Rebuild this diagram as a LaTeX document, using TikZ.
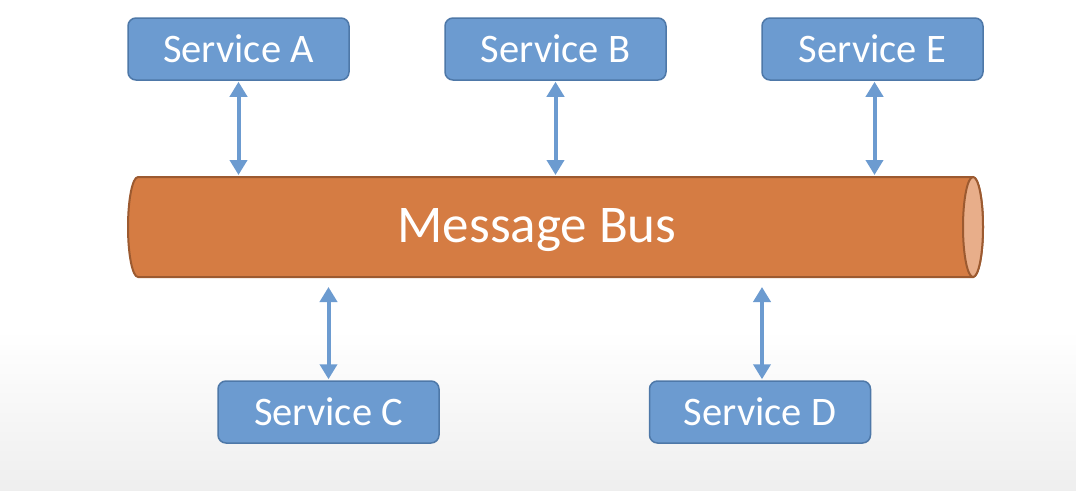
\documentclass[tikz,border=0pt]{standalone}
\usepackage{fontspec}
\setmainfont{Carlito}
\usetikzlibrary{arrows.meta}
\definecolor{boxfill}{HTML}{6C9BD0}
\definecolor{boxline}{HTML}{4E78A8}
\definecolor{busfill}{HTML}{D57C43}
\definecolor{busline}{HTML}{9C5A30}
\definecolor{busend}{HTML}{E8AE8A}
\tikzset{
  svc/.style={draw=boxline, line width=1.5pt, fill=boxfill, rounded corners=8pt,
    minimum width=221pt, minimum height=62pt, inner sep=0pt, text=white,
    font=\fontsize{40.5}{48}\selectfont},
  biarrow/.style={draw=boxfill, line width=4pt,
    {Triangle[width=17pt,length=15pt]}-{Triangle[width=17pt,length=15pt]}},
  busstyle/.style={draw=busline, line width=2pt, fill=busfill},
}
\begin{document}
\begin{tikzpicture}[x=1pt,y=-1pt]
\useasboundingbox (0,0) rectangle (1076,490);
\fill[white] (0,0) rectangle (1076,490);
\shade[top color=white, bottom color=gray!13] (0,330) rectangle (1076,490);
% bus
\draw[busstyle] (138,177) -- (973,177) arc[start angle=90, end angle=-90, x radius=10pt, y radius=50pt]
  -- (138,277) arc[start angle=-90, end angle=-270, x radius=10pt, y radius=50pt] -- cycle;
\draw[draw=busline, line width=2pt, fill=busend] (973,227) ellipse[x radius=10pt, y radius=50pt];
\node[text=white, font=\fontsize{53}{60}\selectfont] (bus) at (537,230) {Message Bus};
\coordinate (bt) at (0,177);
\coordinate (bb) at (0,277);
% services
\node[svc] (A) at (238.5,49) {Service A};
\node[svc] (B) at (555.5,49) {Service B};
\node[svc] (E) at (872.5,49) {Service E};
\node[svc] (C) at (328.5,412) {Service C};
\node[svc] (D) at (760,412) {Service D};
% arrows
\draw[biarrow] ([yshift=-1pt]A.south) -- ([yshift=2pt]A.south |- bt);
\draw[biarrow] ([yshift=-1pt]B.south) -- ([yshift=2pt]B.south |- bt);
\draw[biarrow] ([yshift=-1pt,xshift=2pt]E.south) -- ([yshift=2pt,xshift=2pt]E.south |- bt);
\draw[biarrow] ([yshift=1pt]C.north) -- ([yshift=-10pt]C.north |- bb);
\draw[biarrow] ([yshift=1pt,xshift=2pt]D.north) -- ([yshift=-10pt,xshift=2pt]D.north |- bb);
\end{tikzpicture}
\end{document}
